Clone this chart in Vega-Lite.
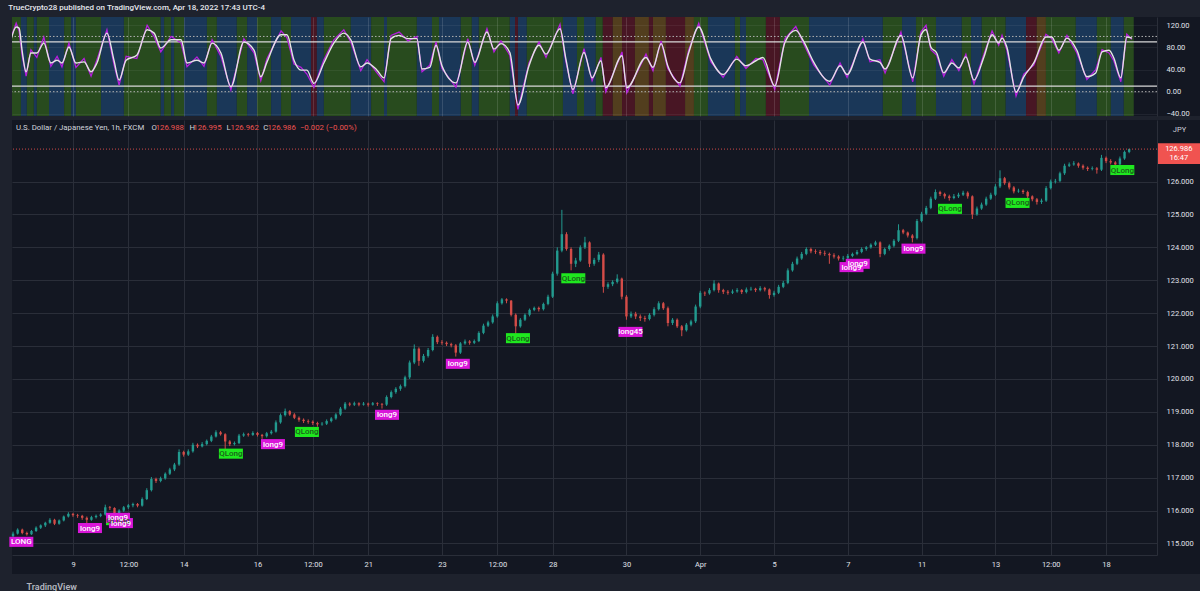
{
"$schema":"https://vega.github.io/schema/vega-lite/v6.json",
"background":"#1e222d",
"padding":{"left":8,"top":4,"right":0,"bottom":0},
"title":{"text":"TrueCrypto28 published on TradingView.com, Apr 18, 2022 17:43 UTC-4","anchor":"start","fontSize":8,"font":"Roboto","fontWeight":500,"color":"#e6e8ee","offset":5,"dx":-1},
"config":{"view":{"stroke":null,"fill":"#131722"},"font":"Roboto","axis":{"labelFont":"Roboto","titleFont":"Roboto"}},
"spacing":2,
"datasets":{
"bands":[
{"a":0.32,"b":0.59,"k":"g"},{"a":0.59,"b":0.75,"k":"b"},{"a":0.75,"b":0.94,"k":"g"},{"a":0.94,"b":1.02,"k":"b"},{"a":1.02,"b":1.35,"k":"g"},{"a":1.35,"b":1.76,"k":"b"},{"a":1.76,"b":1.95,"k":"g"},{"a":1.95,"b":2.08,"k":"b"},{"a":2.08,"b":2.76,"k":"g"},{"a":2.76,"b":3.38,"k":"b"},{"a":3.38,"b":4.38,"k":"g"},{"a":4.38,"b":4.47,"k":"b"},{"a":4.47,"b":4.66,"k":"g"},{"a":4.66,"b":4.74,"k":"b"},{"a":4.74,"b":5.01,"k":"g"},{"a":5.01,"b":5.63,"k":"b"},{"a":5.63,"b":5.9,"k":"g"},{"a":5.9,"b":6.44,"k":"b"},{"a":6.44,"b":6.72,"k":"g"},{"a":6.72,"b":6.99,"k":"b"},{"a":6.99,"b":7.37,"k":"g"},{"a":7.37,"b":7.64,"k":"b"},{"a":7.64,"b":7.91,"k":"g"},{"a":7.91,"b":8.45,"k":"b"},{"a":8.45,"b":8.61,"k":"r"},{"a":8.61,"b":8.8,"k":"b"},{"a":8.8,"b":9.53,"k":"g"},{"a":9.53,"b":10.08,"k":"b"},{"a":10.08,"b":10.43,"k":"g"},{"a":10.43,"b":10.51,"k":"b"},{"a":10.51,"b":11.32,"k":"g"},{"a":11.32,"b":11.73,"k":"b"},{"a":11.73,"b":11.92,"k":"g"},{"a":11.92,"b":12.51,"k":"b"},{"a":12.51,"b":12.81,"k":"g"},{"a":12.81,"b":13.0,"k":"b"},{"a":13.0,"b":13.84,"k":"g"},{"a":13.84,"b":13.98,"k":"b"},{"a":13.98,"b":14.06,"k":"r"},{"a":14.06,"b":14.3,"k":"b"},{"a":14.3,"b":15.28,"k":"g"},{"a":15.28,"b":15.66,"k":"b"},{"a":15.66,"b":15.85,"k":"g"},{"a":15.85,"b":16.17,"k":"b"},{"a":16.17,"b":16.36,"k":"g"},{"a":16.36,"b":16.63,"k":"r"},{"a":16.63,"b":16.88,"k":"o"},{"a":16.88,"b":17.23,"k":"r"},{"a":17.23,"b":17.61,"k":"o"},{"a":17.61,"b":17.72,"k":"r"},{"a":17.72,"b":18.07,"k":"o"},{"a":18.07,"b":18.59,"k":"r"},{"a":18.59,"b":18.83,"k":"o"},{"a":18.83,"b":19.21,"k":"g"},{"a":19.21,"b":19.94,"k":"b"},{"a":19.94,"b":20.08,"k":"g"},{"a":20.08,"b":20.24,"k":"b"},{"a":20.24,"b":20.78,"k":"g"},{"a":20.78,"b":21.16,"k":"r"},{"a":21.16,"b":21.95,"k":"g"},{"a":21.95,"b":23.95,"k":"b"},{"a":23.95,"b":24.47,"k":"g"},{"a":24.47,"b":24.85,"k":"b"},{"a":24.85,"b":25.39,"k":"g"},{"a":25.39,"b":26.09,"k":"b"},{"a":26.09,"b":26.34,"k":"g"},{"a":26.34,"b":26.63,"k":"b"},{"a":26.63,"b":27.28,"k":"g"},{"a":27.28,"b":27.83,"k":"b"},{"a":27.83,"b":28.12,"k":"r"},{"a":28.12,"b":28.37,"k":"o"},{"a":28.37,"b":29.18,"k":"g"},{"a":29.18,"b":29.75,"k":"b"},{"a":29.75,"b":30.13,"k":"g"},{"a":30.13,"b":30.48,"k":"b"},{"a":30.48,"b":30.75,"k":"g"}
],
"osc":[
{"t":0.32,"w":94,"p":98},{"t":0.46,"w":117,"p":124},{"t":0.54,"w":115,"p":110},{"t":0.62,"w":75,"p":66},{"t":0.73,"w":36,"p":28},{"t":0.86,"w":70,"p":76},{"t":1.02,"w":70,"p":62},{"t":1.21,"w":88,"p":99},{"t":1.4,"w":52,"p":46},{"t":1.57,"w":57,"p":64},{"t":1.7,"w":52,"p":45},{"t":1.89,"w":81,"p":88},{"t":2.08,"w":52,"p":44},{"t":2.3,"w":54,"p":60},{"t":2.49,"w":36,"p":28},{"t":2.65,"w":52,"p":58},{"t":2.92,"w":106,"p":112},{"t":3.11,"w":57,"p":50},{"t":3.25,"w":21,"p":12},{"t":3.44,"w":57,"p":64},{"t":3.73,"w":66,"p":60},{"t":4.01,"w":112,"p":120},{"t":4.2,"w":106,"p":100},{"t":4.38,"w":79,"p":72},{"t":4.66,"w":94,"p":100},{"t":4.93,"w":94,"p":88},{"t":5.09,"w":52,"p":45},{"t":5.36,"w":57,"p":63},{"t":5.55,"w":52,"p":46},{"t":5.77,"w":88,"p":94},{"t":6.01,"w":70,"p":64},{"t":6.28,"w":9,"p":3},{"t":6.63,"w":90,"p":96},{"t":6.91,"w":75,"p":70},{"t":7.09,"w":27,"p":20},{"t":7.26,"w":54,"p":60},{"t":7.64,"w":103,"p":110},{"t":7.8,"w":103,"p":98},{"t":7.99,"w":57,"p":50},{"t":8.18,"w":39,"p":44},{"t":8.34,"w":39,"p":32},{"t":8.53,"w":15,"p":8},{"t":8.8,"w":52,"p":58},{"t":9.07,"w":88,"p":94},{"t":9.34,"w":106,"p":112},{"t":9.53,"w":94,"p":90},{"t":9.8,"w":45,"p":38},{"t":9.97,"w":52,"p":58},{"t":10.24,"w":39,"p":34},{"t":10.43,"w":25,"p":18},{"t":10.62,"w":96,"p":102},{"t":10.84,"w":102,"p":108},{"t":11.08,"w":96,"p":92},{"t":11.32,"w":96,"p":100},{"t":11.46,"w":41,"p":36},{"t":11.67,"w":44,"p":48},{"t":11.84,"w":84,"p":90},{"t":12.0,"w":47,"p":42},{"t":12.38,"w":16,"p":8},{"t":12.7,"w":90,"p":96},{"t":12.89,"w":53,"p":48},{"t":13.22,"w":108,"p":114},{"t":13.41,"w":77,"p":72},{"t":13.6,"w":87,"p":92},{"t":13.84,"w":71,"p":66},{"t":14.06,"w":-24,"p":-32},{"t":14.36,"w":47,"p":52},{"t":14.63,"w":84,"p":90},{"t":14.82,"w":68,"p":62},{"t":15.2,"w":114,"p":122},{"t":15.36,"w":59,"p":54},{"t":15.55,"w":4,"p":-4},{"t":15.85,"w":71,"p":78},{"t":16.07,"w":25,"p":20},{"t":16.31,"w":56,"p":62},{"t":16.44,"w":7,"p":0},{"t":16.88,"w":65,"p":72},{"t":17.01,"w":7,"p":-2},{"t":17.53,"w":62,"p":68},{"t":17.72,"w":44,"p":38},{"t":17.94,"w":87,"p":92},{"t":18.12,"w":47,"p":42},{"t":18.45,"w":16,"p":10},{"t":18.69,"w":71,"p":76},{"t":18.96,"w":117,"p":124},{"t":19.29,"w":59,"p":54},{"t":19.62,"w":31,"p":26},{"t":19.99,"w":59,"p":64},{"t":20.24,"w":47,"p":42},{"t":20.51,"w":56,"p":60},{"t":20.7,"w":62,"p":58},{"t":21.02,"w":10,"p":4},{"t":21.3,"w":90,"p":96},{"t":21.59,"w":111,"p":118},{"t":21.81,"w":90,"p":86},{"t":22.08,"w":53,"p":48},{"t":22.51,"w":19,"p":12},{"t":22.79,"w":47,"p":52},{"t":22.98,"w":31,"p":26},{"t":23.41,"w":90,"p":96},{"t":23.6,"w":59,"p":54},{"t":23.87,"w":53,"p":58},{"t":24.01,"w":41,"p":34},{"t":24.44,"w":102,"p":108},{"t":24.76,"w":25,"p":18},{"t":24.98,"w":102,"p":108},{"t":25.12,"w":112,"p":120},{"t":25.25,"w":81,"p":76},{"t":25.41,"w":70,"p":66},{"t":25.6,"w":34,"p":28},{"t":25.82,"w":52,"p":58},{"t":26.01,"w":43,"p":38},{"t":26.2,"w":63,"p":68},{"t":26.42,"w":21,"p":14},{"t":26.69,"w":63,"p":68},{"t":26.91,"w":103,"p":110},{"t":27.09,"w":88,"p":84},{"t":27.18,"w":97,"p":102},{"t":27.31,"w":81,"p":76},{"t":27.56,"w":-1,"p":-8},{"t":27.77,"w":27,"p":32},{"t":28.04,"w":52,"p":48},{"t":28.37,"w":99,"p":104},{"t":28.53,"w":99,"p":96},{"t":28.72,"w":75,"p":70},{"t":28.94,"w":97,"p":102},{"t":29.21,"w":75,"p":70},{"t":29.48,"w":27,"p":22},{"t":29.72,"w":34,"p":40},{"t":29.89,"w":72,"p":76},{"t":30.08,"w":75,"p":70},{"t":30.21,"w":61,"p":56},{"t":30.4,"w":25,"p":18},{"t":30.56,"w":99,"p":104},{"t":30.7,"w":97,"p":95}
],
"candles":[
{"t":0.375,"o":115.22,"h":115.36,"l":115.16,"c":115.30},{"t":0.5,"o":115.30,"h":115.46,"l":115.27,"c":115.42},{"t":0.625,"o":115.42,"h":115.45,"l":115.28,"c":115.32},{"t":0.75,"o":115.32,"h":115.36,"l":115.24,"c":115.28},{"t":0.875,"o":115.28,"h":115.41,"l":115.26,"c":115.38},{"t":1.0,"o":115.38,"h":115.52,"l":115.35,"c":115.48},{"t":1.125,"o":115.48,"h":115.58,"l":115.44,"c":115.55},{"t":1.25,"o":115.55,"h":115.66,"l":115.50,"c":115.63},{"t":1.375,"o":115.63,"h":115.77,"l":115.60,"c":115.72},{"t":1.5,"o":115.72,"h":115.75,"l":115.56,"c":115.60},{"t":1.625,"o":115.60,"h":115.73,"l":115.57,"c":115.70},{"t":1.75,"o":115.70,"h":115.85,"l":115.67,"c":115.82},{"t":1.875,"o":115.82,"h":115.95,"l":115.79,"c":115.90},{"t":2.0,"o":115.90,"h":115.93,"l":115.81,"c":115.86},{"t":2.125,"o":115.86,"h":115.90,"l":115.78,"c":115.84},{"t":2.25,"o":115.84,"h":115.87,"l":115.72,"c":115.78},{"t":2.375,"o":115.78,"h":115.82,"l":115.62,"c":115.72},{"t":2.5,"o":115.72,"h":115.84,"l":115.69,"c":115.80},{"t":2.625,"o":115.80,"h":115.88,"l":115.76,"c":115.84},{"t":2.75,"o":115.84,"h":115.92,"l":115.80,"c":115.88},{"t":2.875,"o":115.88,"h":116.18,"l":115.85,"c":116.10},{"t":3.0,"o":116.10,"h":116.14,"l":116.02,"c":116.08},{"t":3.125,"o":116.08,"h":116.10,"l":115.84,"c":115.92},{"t":3.25,"o":115.92,"h":116.04,"l":115.88,"c":116.00},{"t":3.375,"o":116.00,"h":116.14,"l":115.96,"c":116.10},{"t":3.5,"o":116.10,"h":116.20,"l":116.05,"c":116.16},{"t":3.625,"o":116.16,"h":116.24,"l":116.10,"c":116.20},{"t":3.75,"o":116.20,"h":116.23,"l":116.10,"c":116.15},{"t":3.875,"o":116.15,"h":116.40,"l":116.12,"c":116.35},{"t":4.0,"o":116.35,"h":116.68,"l":116.32,"c":116.62},{"t":4.125,"o":116.62,"h":117.02,"l":116.58,"c":116.96},{"t":4.25,"o":116.96,"h":117.00,"l":116.84,"c":116.90},{"t":4.375,"o":116.90,"h":117.03,"l":116.86,"c":116.98},{"t":4.5,"o":116.98,"h":117.16,"l":116.94,"c":117.12},{"t":4.625,"o":117.12,"h":117.30,"l":117.08,"c":117.25},{"t":4.75,"o":117.25,"h":117.45,"l":117.20,"c":117.40},{"t":4.875,"o":117.40,"h":117.86,"l":117.36,"c":117.78},{"t":5.0,"o":117.78,"h":117.82,"l":117.64,"c":117.70},{"t":5.125,"o":117.70,"h":117.86,"l":117.66,"c":117.80},{"t":5.25,"o":117.80,"h":118.06,"l":117.76,"c":118.00},{"t":5.375,"o":118.00,"h":118.04,"l":117.90,"c":117.95},{"t":5.5,"o":117.95,"h":118.08,"l":117.92,"c":118.02},{"t":5.625,"o":118.02,"h":118.16,"l":117.98,"c":118.12},{"t":5.75,"o":118.12,"h":118.30,"l":118.08,"c":118.25},{"t":5.875,"o":118.25,"h":118.44,"l":118.22,"c":118.38},{"t":6.0,"o":118.38,"h":118.42,"l":118.28,"c":118.32},{"t":6.125,"o":118.32,"h":118.35,"l":117.85,"c":118.10},{"t":6.25,"o":118.10,"h":118.14,"l":117.96,"c":118.02},{"t":6.375,"o":118.02,"h":118.10,"l":117.98,"c":118.05},{"t":6.5,"o":118.05,"h":118.33,"l":118.02,"c":118.28},{"t":6.625,"o":118.28,"h":118.37,"l":118.24,"c":118.32},{"t":6.75,"o":118.32,"h":118.36,"l":118.25,"c":118.30},{"t":6.875,"o":118.30,"h":118.41,"l":118.27,"c":118.36},{"t":7.0,"o":118.36,"h":118.39,"l":118.25,"c":118.30},{"t":7.125,"o":118.30,"h":118.33,"l":118.18,"c":118.26},{"t":7.25,"o":118.26,"h":118.39,"l":118.22,"c":118.35},{"t":7.375,"o":118.35,"h":118.45,"l":118.31,"c":118.40},{"t":7.5,"o":118.40,"h":118.74,"l":118.37,"c":118.68},{"t":7.625,"o":118.68,"h":118.95,"l":118.64,"c":118.90},{"t":7.75,"o":118.90,"h":119.10,"l":118.86,"c":119.02},{"t":7.875,"o":119.02,"h":119.05,"l":118.88,"c":118.92},{"t":8.0,"o":118.92,"h":118.96,"l":118.78,"c":118.82},{"t":8.125,"o":118.82,"h":118.86,"l":118.70,"c":118.76},{"t":8.25,"o":118.76,"h":118.80,"l":118.66,"c":118.72},{"t":8.375,"o":118.72,"h":118.77,"l":118.64,"c":118.70},{"t":8.5,"o":118.70,"h":118.74,"l":118.60,"c":118.66},{"t":8.625,"o":118.66,"h":118.70,"l":118.55,"c":118.62},{"t":8.75,"o":118.62,"h":118.69,"l":118.58,"c":118.64},{"t":8.875,"o":118.64,"h":118.77,"l":118.60,"c":118.72},{"t":9.0,"o":118.72,"h":118.84,"l":118.68,"c":118.80},{"t":9.125,"o":118.80,"h":118.96,"l":118.76,"c":118.92},{"t":9.25,"o":118.92,"h":119.15,"l":118.88,"c":119.10},{"t":9.375,"o":119.10,"h":119.30,"l":119.06,"c":119.25},{"t":9.5,"o":119.25,"h":119.29,"l":119.17,"c":119.22},{"t":9.625,"o":119.22,"h":119.31,"l":119.18,"c":119.26},{"t":9.75,"o":119.26,"h":119.29,"l":119.17,"c":119.22},{"t":9.875,"o":119.22,"h":119.30,"l":119.19,"c":119.25},{"t":10.0,"o":119.25,"h":119.28,"l":119.16,"c":119.22},{"t":10.125,"o":119.22,"h":119.30,"l":119.19,"c":119.26},{"t":10.25,"o":119.26,"h":119.29,"l":119.18,"c":119.24},{"t":10.375,"o":119.24,"h":119.27,"l":119.10,"c":119.22},{"t":10.5,"o":119.22,"h":119.50,"l":119.18,"c":119.45},{"t":10.625,"o":119.45,"h":119.65,"l":119.41,"c":119.60},{"t":10.75,"o":119.60,"h":119.75,"l":119.55,"c":119.70},{"t":10.875,"o":119.70,"h":119.83,"l":119.64,"c":119.78},{"t":11.0,"o":119.78,"h":120.10,"l":119.74,"c":120.05},{"t":11.125,"o":120.05,"h":120.56,"l":120.00,"c":120.50},{"t":11.25,"o":120.50,"h":121.05,"l":120.45,"c":120.92},{"t":11.375,"o":120.92,"h":120.96,"l":120.40,"c":120.55},{"t":11.5,"o":120.55,"h":120.76,"l":120.50,"c":120.70},{"t":11.625,"o":120.70,"h":120.94,"l":120.65,"c":120.88},{"t":11.75,"o":120.88,"h":121.36,"l":120.84,"c":121.28},{"t":11.875,"o":121.28,"h":121.32,"l":121.06,"c":121.12},{"t":12.0,"o":121.12,"h":121.18,"l":121.04,"c":121.10},{"t":12.125,"o":121.10,"h":121.14,"l":121.00,"c":121.06},{"t":12.25,"o":121.06,"h":121.10,"l":120.96,"c":121.02},{"t":12.375,"o":121.02,"h":121.06,"l":120.68,"c":120.80},{"t":12.5,"o":120.80,"h":121.12,"l":120.76,"c":121.08},{"t":12.625,"o":121.08,"h":121.20,"l":121.04,"c":121.14},{"t":12.75,"o":121.14,"h":121.18,"l":121.04,"c":121.10},{"t":12.875,"o":121.10,"h":121.20,"l":121.06,"c":121.15},{"t":13.0,"o":121.15,"h":121.45,"l":121.12,"c":121.40},{"t":13.125,"o":121.40,"h":121.68,"l":121.36,"c":121.62},{"t":13.25,"o":121.62,"h":121.77,"l":121.58,"c":121.72},{"t":13.375,"o":121.72,"h":121.96,"l":121.68,"c":121.90},{"t":13.5,"o":121.90,"h":122.36,"l":121.86,"c":122.30},{"t":13.625,"o":122.30,"h":122.46,"l":122.26,"c":122.42},{"t":13.75,"o":122.42,"h":122.45,"l":122.30,"c":122.38},{"t":13.875,"o":122.38,"h":122.40,"l":121.90,"c":121.95},{"t":14.0,"o":121.95,"h":121.99,"l":121.35,"c":121.60},{"t":14.125,"o":121.60,"h":121.85,"l":121.56,"c":121.80},{"t":14.25,"o":121.80,"h":121.99,"l":121.76,"c":121.95},{"t":14.375,"o":121.95,"h":122.14,"l":121.90,"c":122.10},{"t":14.5,"o":122.10,"h":122.20,"l":122.06,"c":122.16},{"t":14.625,"o":122.16,"h":122.20,"l":122.05,"c":122.12},{"t":14.75,"o":122.12,"h":122.32,"l":122.08,"c":122.28},{"t":14.875,"o":122.28,"h":122.56,"l":122.24,"c":122.50},{"t":15.0,"o":122.50,"h":123.26,"l":122.46,"c":123.20},{"t":15.125,"o":123.20,"h":124.00,"l":123.14,"c":123.90},{"t":15.25,"o":123.90,"h":125.14,"l":123.85,"c":124.40},{"t":15.375,"o":124.40,"h":124.46,"l":123.90,"c":123.95},{"t":15.5,"o":123.95,"h":124.00,"l":123.30,"c":123.50},{"t":15.625,"o":123.50,"h":123.68,"l":123.40,"c":123.60},{"t":15.75,"o":123.60,"h":124.06,"l":123.56,"c":124.00},{"t":15.875,"o":124.00,"h":124.32,"l":123.95,"c":124.15},{"t":16.0,"o":124.15,"h":124.18,"l":123.40,"c":123.50},{"t":16.125,"o":123.50,"h":123.68,"l":123.44,"c":123.62},{"t":16.25,"o":123.62,"h":123.86,"l":123.55,"c":123.78},{"t":16.375,"o":123.78,"h":123.82,"l":122.62,"c":122.80},{"t":16.5,"o":122.80,"h":122.94,"l":122.74,"c":122.88},{"t":16.625,"o":122.88,"h":123.00,"l":122.82,"c":122.95},{"t":16.75,"o":122.95,"h":123.18,"l":122.90,"c":123.05},{"t":16.875,"o":123.05,"h":123.08,"l":122.42,"c":122.50},{"t":17.0,"o":122.50,"h":122.55,"l":121.80,"c":121.90},{"t":17.125,"o":121.90,"h":122.05,"l":121.85,"c":121.98},{"t":17.25,"o":121.98,"h":122.04,"l":121.82,"c":121.90},{"t":17.375,"o":121.90,"h":121.96,"l":121.76,"c":121.85},{"t":17.5,"o":121.85,"h":121.92,"l":121.74,"c":121.82},{"t":17.625,"o":121.82,"h":122.00,"l":121.78,"c":121.95},{"t":17.75,"o":121.95,"h":122.18,"l":121.90,"c":122.12},{"t":17.875,"o":122.12,"h":122.36,"l":122.08,"c":122.30},{"t":18.0,"o":122.30,"h":122.34,"l":122.10,"c":122.15},{"t":18.125,"o":122.15,"h":122.20,"l":121.60,"c":121.70},{"t":18.25,"o":121.70,"h":121.85,"l":121.64,"c":121.80},{"t":18.375,"o":121.80,"h":121.84,"l":121.55,"c":121.60},{"t":18.5,"o":121.60,"h":121.64,"l":121.30,"c":121.48},{"t":18.625,"o":121.48,"h":121.70,"l":121.44,"c":121.65},{"t":18.75,"o":121.65,"h":121.80,"l":121.60,"c":121.75},{"t":18.875,"o":121.75,"h":122.26,"l":121.70,"c":122.20},{"t":19.0,"o":122.20,"h":122.68,"l":122.15,"c":122.62},{"t":19.125,"o":122.62,"h":122.66,"l":122.52,"c":122.60},{"t":19.25,"o":122.60,"h":122.76,"l":122.56,"c":122.70},{"t":19.375,"o":122.70,"h":123.00,"l":122.66,"c":122.90},{"t":19.5,"o":122.90,"h":122.93,"l":122.62,"c":122.70},{"t":19.625,"o":122.70,"h":122.74,"l":122.58,"c":122.65},{"t":19.75,"o":122.65,"h":122.70,"l":122.56,"c":122.62},{"t":19.875,"o":122.62,"h":122.72,"l":122.58,"c":122.66},{"t":20.0,"o":122.66,"h":122.76,"l":122.62,"c":122.70},{"t":20.125,"o":122.70,"h":122.73,"l":122.58,"c":122.64},{"t":20.25,"o":122.64,"h":122.78,"l":122.60,"c":122.72},{"t":20.375,"o":122.72,"h":122.80,"l":122.68,"c":122.74},{"t":20.5,"o":122.74,"h":122.77,"l":122.64,"c":122.70},{"t":20.625,"o":122.70,"h":122.82,"l":122.66,"c":122.76},{"t":20.75,"o":122.76,"h":122.80,"l":122.66,"c":122.72},{"t":20.875,"o":122.72,"h":122.75,"l":122.44,"c":122.55},{"t":21.0,"o":122.55,"h":122.68,"l":122.50,"c":122.62},{"t":21.125,"o":122.62,"h":122.86,"l":122.58,"c":122.80},{"t":21.25,"o":122.80,"h":122.98,"l":122.76,"c":122.92},{"t":21.375,"o":122.92,"h":123.36,"l":122.88,"c":123.30},{"t":21.5,"o":123.30,"h":123.56,"l":123.26,"c":123.50},{"t":21.625,"o":123.50,"h":123.72,"l":123.46,"c":123.66},{"t":21.75,"o":123.66,"h":123.86,"l":123.62,"c":123.80},{"t":21.875,"o":123.80,"h":124.00,"l":123.76,"c":123.95},{"t":22.0,"o":123.95,"h":123.99,"l":123.82,"c":123.88},{"t":22.125,"o":123.88,"h":123.94,"l":123.80,"c":123.86},{"t":22.25,"o":123.86,"h":123.92,"l":123.76,"c":123.82},{"t":22.375,"o":123.82,"h":123.90,"l":123.74,"c":123.80},{"t":22.5,"o":123.80,"h":123.84,"l":123.50,"c":123.76},{"t":22.625,"o":123.76,"h":123.82,"l":123.66,"c":123.72},{"t":22.75,"o":123.72,"h":123.76,"l":123.60,"c":123.66},{"t":22.875,"o":123.66,"h":123.74,"l":123.60,"c":123.68},{"t":23.0,"o":123.68,"h":123.80,"l":123.64,"c":123.74},{"t":23.125,"o":123.74,"h":123.84,"l":123.70,"c":123.80},{"t":23.25,"o":123.80,"h":123.92,"l":123.76,"c":123.86},{"t":23.375,"o":123.86,"h":124.00,"l":123.82,"c":123.95},{"t":23.5,"o":123.95,"h":124.04,"l":123.90,"c":124.00},{"t":23.625,"o":124.00,"h":124.12,"l":123.96,"c":124.08},{"t":23.75,"o":124.08,"h":124.20,"l":124.04,"c":124.15},{"t":23.875,"o":124.15,"h":124.18,"l":123.70,"c":123.80},{"t":24.0,"o":123.80,"h":123.99,"l":123.76,"c":123.95},{"t":24.125,"o":123.95,"h":124.09,"l":123.90,"c":124.05},{"t":24.25,"o":124.05,"h":124.25,"l":124.00,"c":124.20},{"t":24.375,"o":124.20,"h":124.70,"l":124.16,"c":124.52},{"t":24.5,"o":124.52,"h":124.56,"l":124.40,"c":124.45},{"t":24.625,"o":124.45,"h":124.48,"l":124.30,"c":124.36},{"t":24.75,"o":124.36,"h":124.40,"l":124.15,"c":124.28},{"t":24.875,"o":124.28,"h":124.86,"l":124.24,"c":124.80},{"t":25.0,"o":124.80,"h":125.08,"l":124.76,"c":125.02},{"t":25.125,"o":125.02,"h":125.26,"l":124.98,"c":125.20},{"t":25.25,"o":125.20,"h":125.54,"l":125.16,"c":125.48},{"t":25.375,"o":125.48,"h":125.76,"l":125.44,"c":125.68},{"t":25.5,"o":125.68,"h":125.72,"l":125.56,"c":125.62},{"t":25.625,"o":125.62,"h":125.66,"l":125.48,"c":125.55},{"t":25.75,"o":125.55,"h":125.60,"l":125.42,"c":125.50},{"t":25.875,"o":125.50,"h":125.62,"l":125.46,"c":125.55},{"t":26.0,"o":125.55,"h":125.66,"l":125.50,"c":125.60},{"t":26.125,"o":125.60,"h":125.72,"l":125.56,"c":125.66},{"t":26.25,"o":125.66,"h":125.70,"l":125.48,"c":125.55},{"t":26.375,"o":125.55,"h":125.58,"l":124.86,"c":125.00},{"t":26.5,"o":125.00,"h":125.24,"l":124.96,"c":125.18},{"t":26.625,"o":125.18,"h":125.36,"l":125.14,"c":125.30},{"t":26.75,"o":125.30,"h":125.54,"l":125.26,"c":125.48},{"t":26.875,"o":125.48,"h":125.66,"l":125.44,"c":125.60},{"t":27.0,"o":125.60,"h":125.92,"l":125.56,"c":125.85},{"t":27.125,"o":125.85,"h":126.34,"l":125.80,"c":126.10},{"t":27.25,"o":126.10,"h":126.14,"l":125.90,"c":125.95},{"t":27.375,"o":125.95,"h":126.00,"l":125.76,"c":125.82},{"t":27.5,"o":125.82,"h":125.86,"l":125.64,"c":125.70},{"t":27.625,"o":125.70,"h":125.78,"l":125.66,"c":125.72},{"t":27.75,"o":125.72,"h":125.76,"l":125.62,"c":125.68},{"t":27.875,"o":125.68,"h":125.72,"l":125.50,"c":125.55},{"t":28.0,"o":125.55,"h":125.58,"l":125.40,"c":125.46},{"t":28.125,"o":125.46,"h":125.50,"l":125.30,"c":125.38},{"t":28.25,"o":125.38,"h":125.48,"l":125.32,"c":125.42},{"t":28.375,"o":125.42,"h":125.86,"l":125.38,"c":125.80},{"t":28.5,"o":125.80,"h":126.06,"l":125.76,"c":126.00},{"t":28.625,"o":126.00,"h":126.08,"l":125.94,"c":126.02},{"t":28.75,"o":126.02,"h":126.30,"l":125.98,"c":126.25},{"t":28.875,"o":126.25,"h":126.54,"l":126.20,"c":126.48},{"t":29.0,"o":126.48,"h":126.58,"l":126.44,"c":126.52},{"t":29.125,"o":126.52,"h":126.62,"l":126.48,"c":126.55},{"t":29.25,"o":126.55,"h":126.58,"l":126.42,"c":126.48},{"t":29.375,"o":126.48,"h":126.52,"l":126.36,"c":126.42},{"t":29.5,"o":126.42,"h":126.46,"l":126.32,"c":126.38},{"t":29.625,"o":126.38,"h":126.46,"l":126.34,"c":126.40},{"t":29.75,"o":126.40,"h":126.44,"l":126.24,"c":126.36},{"t":29.875,"o":126.36,"h":126.81,"l":126.32,"c":126.72},{"t":30.0,"o":126.72,"h":126.76,"l":126.56,"c":126.62},{"t":30.125,"o":126.62,"h":126.68,"l":126.52,"c":126.58},{"t":30.25,"o":126.58,"h":126.62,"l":126.30,"c":126.52},{"t":30.375,"o":126.52,"h":126.76,"l":126.48,"c":126.70},{"t":30.5,"o":126.70,"h":126.94,"l":126.66,"c":126.90},{"t":30.625,"o":126.90,"h":127.00,"l":126.86,"c":126.986}
],
"tags":[
{"t":3.22,"p":115.71,"s":"QLong","k":"q"},{"t":6.28,"p":117.73,"s":"QLong","k":"q"},{"t":8.34,"p":118.39,"s":"QLong","k":"q"},{"t":14.06,"p":121.24,"s":"QLong","k":"q"},{"t":15.56,"p":123.06,"s":"QLong","k":"q"},{"t":25.77,"p":125.17,"s":"QLong","k":"q"},{"t":27.6,"p":125.35,"s":"QLong","k":"q"},{"t":30.44,"p":126.35,"s":"QLong","k":"q"},
{"t":0.6,"p":115.05,"s":"LONG","k":"l"},{"t":2.46,"p":115.47,"s":"long9","k":"l"},{"t":3.22,"p":115.78,"s":"long9","k":"l"},{"t":3.3,"p":115.62,"s":"long9","k":"l"},{"t":7.42,"p":118.02,"s":"long9","k":"l"},{"t":10.51,"p":118.91,"s":"long9","k":"l"},{"t":12.43,"p":120.46,"s":"long9","k":"l"},{"t":17.11,"p":121.43,"s":"long45","k":"l"},{"t":23.1,"p":123.4,"s":"long9","k":"l"},{"t":23.27,"p":123.5,"s":"long9","k":"l"},{"t":24.78,"p":123.96,"s":"long9","k":"l"}
],
"hdr":[
{"t":0.455,"s":"U.S. Dollar / Japanese Yen, 1h, FXCM","k":"a"},{"t":4.13,"s":"O","k":"a"},{"t":4.24,"s":"126.988","k":"v"},{"t":5.16,"s":"H","k":"a"},{"t":5.26,"s":"126.995","k":"v"},{"t":6.16,"s":"L","k":"a"},{"t":6.27,"s":"126.962","k":"v"},{"t":7.16,"s":"C","k":"a"},{"t":7.27,"s":"126.986","k":"v"},{"t":8.15,"s":"−0.002 (−0.00%)","k":"v"}
]
},
"vconcat":[
{
"width":1145,"height":99,
"layer":[
{"data":{"name":"bands"},"mark":{"type":"rect","clip":true},
"encoding":{
"x":{"field":"a","type":"quantitative","scale":{"domain":[0.347,31.38]},"axis":{"values":[2,3.5,5,7,8.5,10,12,13.5,15,17,19,21,23,25,27,28.5,30],"grid":true,"gridColor":"#ffffff","gridOpacity":0.13,"labels":false,"ticks":false,"domain":false,"title":null,"zindex":1}},
"x2":{"field":"b"},
"y":{"datum":135.2,"type":"quantitative","scale":{"domain":[-44,135.2]},"axis":{"orient":"right","values":[120,80,40,0,-40],"tickCount":5,"format":".2f","grid":true,"gridColor":"#ffffff","gridOpacity":0.06,"labelColor":"#e0e3eb","labelFontSize":7.5,"labelAlign":"left","labelPadding":9,"labelOverlap":false,"labelSeparation":0,"labelFlush":false,"ticks":false,"tickSize":0,"domain":true,"domainColor":"#2a2e39","title":null,"zindex":1}},
"y2":{"datum":-44},
"color":{"field":"k","type":"nominal","scale":{"domain":["g","b","r","o"],"range":["#284b1e","#1a3758","#481624","#523e1e"]},"legend":null}
}},
{"data":{"values":[{"lv":90},{"lv":10}]},"mark":{"type":"rule","color":"#d9d9d9","strokeWidth":1.2},
"encoding":{"y":{"field":"lv","type":"quantitative","scale":{"domain":[-44,135.2]},"title":null}}},
{"data":{"values":[{"lv":100},{"lv":0}]},"mark":{"type":"rule","color":"#b0b0b0","strokeWidth":1,"strokeDash":[1.5,2]},
"encoding":{"y":{"field":"lv","type":"quantitative","scale":{"domain":[-44,135.2]},"title":null}}},
{"data":{"name":"osc"},"mark":{"type":"line","color":"#b41edc","strokeWidth":1.3,"clip":true},
"encoding":{"x":{"field":"t","type":"quantitative","scale":{"domain":[0.347,31.38]},"title":null},"y":{"field":"p","type":"quantitative","scale":{"domain":[-44,135.2]},"title":null}}},
{"data":{"name":"osc"},"mark":{"type":"line","color":"#e4e4e4","strokeWidth":1.4,"interpolate":"monotone","clip":true},
"encoding":{"x":{"field":"t","type":"quantitative","scale":{"domain":[0.347,31.38]},"title":null},"y":{"field":"w","type":"quantitative","scale":{"domain":[-44,135.2]},"title":null}}},
{"data":{"values":[{}]},"mark":{"type":"rect","color":"#131722"},
"encoding":{"x":{"datum":31.38,"type":"quantitative","scale":{"domain":[0.347,31.38]}},"x2":{"datum":32.7},"y":{"datum":135.2,"type":"quantitative","scale":{"domain":[-44,135.2]}},"y2":{"datum":-44}}}
]
},
{
"width":1145,"height":435,
"resolve":{"axis":{"x":"independent","y":"independent"},"scale":{"color":"independent","fill":"independent"}},
"layer":[
{"data":{"name":"candles"},"mark":{"type":"rule","strokeWidth":1},
"encoding":{
"x":{"field":"t","type":"quantitative","scale":{"domain":[0.347,31.38]},"axis":{"orient":"bottom","values":[2,3.5,5,7,8.5,10,12,13.5,15,17,19,21,23,25,27,28.5,30],"grid":true,"gridColor":"#2a2e39","labels":false,"ticks":false,"domain":false,"title":null}},
"y":{"field":"l","type":"quantitative","scale":{"domain":[114.65,127.87]},"axis":{"orient":"right","values":[115,116,117,118,119,120,121,122,123,124,125,126],"grid":true,"gridColor":"#2a2e39","labels":false,"ticks":false,"domain":false,"title":null}},
"y2":{"field":"h"},
"color":{"condition":{"test":"datum.c >= datum.o","value":"#229a8f"},"value":"#d44c48"}
}},
{"data":{"name":"candles"},"mark":{"type":"rule","strokeWidth":2.4},
"encoding":{
"x":{"field":"t","type":"quantitative","scale":{"domain":[0.347,31.38]},"axis":null},
"y":{"field":"o","type":"quantitative","scale":{"domain":[114.65,127.87]},"axis":null},
"y2":{"field":"c"},
"color":{"condition":{"test":"datum.c >= datum.o","value":"#229a8f"},"value":"#d44c48"}
}},
{"data":{"values":[{}]},"mark":{"type":"rule","color":"#ef5350","strokeWidth":1,"strokeDash":[1,2],"opacity":0.85},
"encoding":{"y":{"datum":126.986,"type":"quantitative","scale":{"domain":[114.65,127.87]},"axis":null}}},
{"data":{"name":"tags"},"mark":{"type":"point","shape":"M-1,-0.42H1V0.42H-1Z","size":576,"filled":true,"opacity":1,"strokeWidth":0},
"encoding":{
"x":{"field":"t","type":"quantitative","scale":{"domain":[0.347,31.38]},"axis":null},
"y":{"field":"p","type":"quantitative","scale":{"domain":[114.65,127.87]},"axis":null},
"color":{"field":"k","type":"nominal","scale":{"domain":["q","l"],"range":["#1fe81f","#d916d9"]},"legend":null}
}},
{"data":{"name":"tags"},"mark":{"type":"text","fontSize":8,"fontWeight":500,"align":"center","baseline":"middle","dy":0.5},
"encoding":{
"x":{"field":"t","type":"quantitative","scale":{"domain":[0.347,31.38]},"axis":null},
"y":{"field":"p","type":"quantitative","scale":{"domain":[114.65,127.87]},"axis":null},
"text":{"field":"s"},
"color":{"value":"#ffffff"},
"fill":{"condition":{"test":"datum.k == 'q'","value":"#1a5e1a"},"value":"#ffffff"}
}},
{"data":{"name":"hdr"},"mark":{"type":"text","fontSize":7.8,"align":"left","baseline":"middle"},
"encoding":{
"x":{"field":"t","type":"quantitative","scale":{"domain":[0.347,31.38]},"axis":null},
"y":{"datum":127.64,"type":"quantitative","scale":{"domain":[114.65,127.87]},"axis":null},
"text":{"field":"s"},
"fill":{"condition":{"test":"datum.k == 'v'","value":"#ef5350"},"value":"#d1d4dc"}
}},
{"data":{"values":[{}]},"mark":{"type":"rect","color":"#131722"},
"encoding":{"x":{"datum":31.38,"type":"quantitative","scale":{"domain":[0.347,31.38]},"axis":null},"x2":{"datum":32.7},"y":{"datum":127.87,"type":"quantitative","scale":{"domain":[114.65,127.87]},"axis":null},"y2":{"datum":114.07}}},
{"data":{"values":[{}]},"mark":{"type":"rect","color":"#131722"},
"encoding":{
"x":{"datum":0.347,"type":"quantitative","scale":{"domain":[0.347,31.38]},"axis":{"orient":"bottom","values":[2,3.5,5,7,8.5,10,12,13.5,15,17,19,21,23,25,27,28.5,30],"labelExpr":"datum.value==2?'9':datum.value==3.5?'12:00':datum.value==5?'14':datum.value==7?'16':datum.value==8.5?'12:00':datum.value==10?'21':datum.value==12?'23':datum.value==13.5?'12:00':datum.value==15?'28':datum.value==17?'30':datum.value==19?'Apr':datum.value==21?'5':datum.value==23?'7':datum.value==25?'11':datum.value==27?'13':datum.value==28.5?'12:00':'18'","grid":false,"ticks":false,"tickSize":0,"labelPadding":9,"labelBaseline":"middle","labelColor":"#e0e3eb","labelFontSize":7.5,"labelFlush":false,"labelOverlap":false,"domain":true,"domainColor":"#2a2e39","title":"TradingView","titleX":14,"titleY":31,"titleAlign":"left","titleBaseline":"middle","titleColor":"#b2b5be","titleFontSize":9,"titleFontWeight":600,"zindex":1}},
"x2":{"datum":32.7},
"y":{"datum":114.65,"type":"quantitative","scale":{"domain":[114.65,127.87]},"axis":{"orient":"right","values":[115,116,117,118,119,120,121,122,123,124,125,126],"format":".3f","grid":false,"ticks":false,"tickSize":0,"labelAlign":"left","labelPadding":9,"labelColor":"#e0e3eb","labelFontSize":7.5,"labelOverlap":false,"labelFlush":false,"domain":true,"domainColor":"#2a2e39","title":"JPY","titleAngle":0,"titleX":22,"titleY":9,"titleAlign":"center","titleBaseline":"middle","titleColor":"#d1d4dc","titleFontSize":7.5,"titleFontWeight":"normal","zindex":1}},
"y2":{"datum":114.07}
}},
{"data":{"values":[{}]},"mark":{"type":"rect","color":"#f05350"},
"encoding":{"x":{"datum":31.38,"type":"quantitative","scale":{"domain":[0.347,31.38]},"axis":null},"x2":{"datum":32.7},"y":{"datum":127.16,"type":"quantitative","scale":{"domain":[114.65,127.87]},"axis":null},"y2":{"datum":126.53}}},
{"data":{"values":[{"s":"126.986","p":126.99},{"s":"16:47","p":126.7}]},"mark":{"type":"text","fontSize":7.5,"color":"#ffffff","align":"center","baseline":"middle"},
"encoding":{"x":{"datum":31.97,"type":"quantitative","scale":{"domain":[0.347,31.38]},"axis":null},"y":{"field":"p","type":"quantitative","scale":{"domain":[114.65,127.87]},"axis":null},"text":{"field":"s"}}}
]
}
]
}
